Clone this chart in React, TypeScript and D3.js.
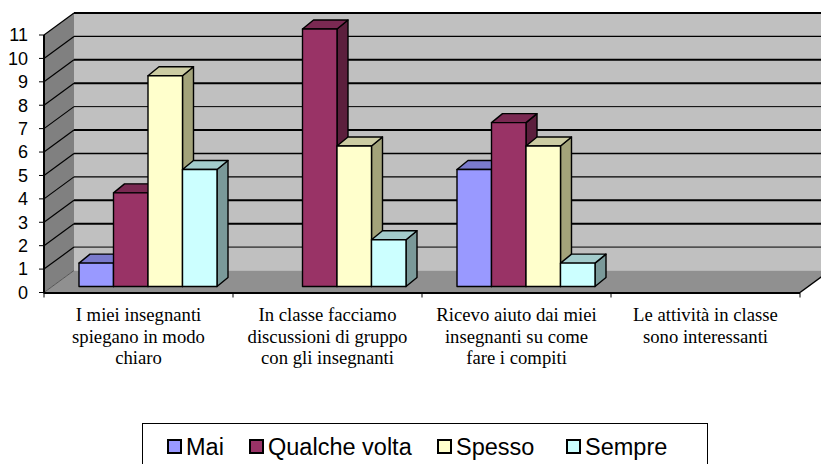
import React from "react";
import * as d3 from "d3";

const categories = [
  ["I miei insegnanti", "spiegano in modo", "chiaro"],
  ["In classe facciamo", "discussioni di gruppo", "con gli insegnanti"],
  ["Ricevo aiuto dai miei", "insegnanti su come", "fare i compiti"],
  ["Le attività in classe", "sono interessanti"],
];
const seriesNames = ["Mai", "Qualche volta", "Spesso", "Sempre"];
const mai = [1, 0, 5, 0];
const qualcheVolta = [4, 11, 7, 0];
const spesso = [9, 6, 6, 0];
const sempre = [5, 2, 1, 0];
const seriesValues = [mai, qualcheVolta, spesso, sempre];
const yTicks = [0, 1, 2, 3, 4, 5, 6, 7, 8, 9, 10, 11];

const fills = ["#9999ff", "#993366", "#ffffcc", "#ccffff"];
const tops = ["#7a7acc", "#7a2952", "#cccca3", "#a3cccc"];
const sides = ["#5c5c99", "#5c1f3d", "#a3a37a", "#7a9999"];

// rendering of the grid is uneven in the original: some lines are heavier
const gridWeights = [1, 1, 2, 2, 1.2, 1.5, 2, 1, 2, 2, 1.2, 2];

const width = 821;
const height = 464;

// 3d box
const depthX = 30;
const depthY = -22;
const barDepthX = 11;
const barDepthY = -9;
const barLift = 6;

const x0 = d3.scaleBand<number>().domain(d3.range(categories.length)).range([44, 800]);
const x1 = d3.scaleBand<string>().domain(seriesNames).range([35, 173]);
const y = d3.scaleLinear().domain([0, 11]).range([292.5, 35]);

const pts = (p: number[][]) => p.map((d) => d.join(",")).join(" ");

export default function App() {
  const left = x0.range()[0];
  const right = x0.range()[1];
  const top = y(11);
  const bottom = y(0);

  return (
    <div style={{ position: "absolute", left: 0, top: 0, width, height, overflow: "hidden" }}>
      <svg width={width} height={height} style={{ display: "block" }}>
        <rect width={width} height={height} fill="#fff" />

        {/* walls and floor */}
        <polygon
          points={pts([[left + depthX, top + depthY], [right + depthX, top + depthY], [right + depthX, bottom + depthY], [left + depthX, bottom + depthY]])}
          fill="#c0c0c0"
        />
        <polygon
          points={pts([[left, top], [left + depthX, top + depthY], [left + depthX, bottom + depthY], [left, bottom]])}
          fill="#808080"
        />
        <polygon
          points={pts([[left, bottom], [left + depthX, bottom + depthY], [right + depthX, bottom + depthY], [right, bottom]])}
          fill="#909090"
        />

        {/* grid */}
        {yTicks.slice(1).map((t) => (
          <g key={t} fill="none" stroke="#000">
            <line x1={left} y1={y(t)} x2={left + depthX} y2={y(t) + depthY} strokeWidth={1.2} />
            <line
              x1={left + depthX}
              y1={y(t) + depthY}
              x2={right + depthX}
              y2={y(t) + depthY}
              strokeWidth={gridWeights[t]}
            />
          </g>
        ))}
        <line x1={left} x2={left + depthX} y1={bottom} y2={bottom + depthY} stroke="#555" strokeWidth={1} />
        <line x1={right} x2={right + depthX} y1={bottom} y2={bottom + depthY} stroke="#000" strokeWidth={1.5} />

        {/* axes */}
        <line x1={left} x2={left} y1={top} y2={bottom + 1} stroke="#000" strokeWidth={2} />
        <line x1={left} x2={right} y1={bottom + 0.5} y2={bottom + 0.5} stroke="#000" strokeWidth={2} />
        {yTicks.map((t) => (
          <g key={t}>
            <line x1={left - 5} x2={left} y1={y(t)} y2={y(t)} stroke="#000" strokeWidth={1} />
            <text
              x={left - 16}
              y={y(t) + 6.4}
              textAnchor="end"
              fontFamily="'Liberation Sans', Arial, sans-serif"
              fontSize={18}
              fill="#000"
            >
              {t}
            </text>
          </g>
        ))}
        {d3.range(categories.length + 1).map((i) => {
          const tx = left + i * x0.step();
          return <line key={i} x1={tx} x2={tx} y1={bottom} y2={bottom + 5} stroke="#000" strokeWidth={1} />;
        })}

        {/* bars */}
        {categories.map((_, c) =>
          seriesNames.map((name, s) => {
            const v = seriesValues[s][c];
            if (!v) return null;
            const bx = x0(c)! + x1(name)!;
            const bw = x1.bandwidth();
            const by = y(v) - barLift;
            const bb = bottom - barLift;
            return (
              <g key={name + c} stroke="#000" strokeWidth={1.4} strokeLinejoin="round">
                <polygon
                  points={pts([[bx + bw, by], [bx + bw + barDepthX, by + barDepthY], [bx + bw + barDepthX, bb + barDepthY], [bx + bw, bb]])}
                  fill={sides[s]}
                />
                <polygon
                  points={pts([[bx, by], [bx + barDepthX, by + barDepthY], [bx + bw + barDepthX, by + barDepthY], [bx + bw, by]])}
                  fill={tops[s]}
                />
                <rect x={bx} y={by} width={bw} height={bb - by} fill={fills[s]} />
              </g>
            );
          })
        )}

        {/* category labels */}
        {categories.map((lines, c) => (
          <text
            key={c}
            textAnchor="middle"
            fontFamily="'Liberation Serif', 'Times New Roman', serif"
            fontSize={18.7}
            fill="#000"
          >
            {lines.map((l, i) => (
              <tspan key={i} x={x0(c)! + x0.bandwidth() / 2} y={321 + i * 21.5}>
                {l}
              </tspan>
            ))}
          </text>
        ))}

        {/* legend, its lower edge falls outside the picture */}
        <rect x={142.5} y={423.5} width={565} height={60} fill="#fff" stroke="#000" strokeWidth={1} />
        {seriesNames.map((name, s) => {
          const lx = [168, 250, 438, 567][s];
          return (
            <g key={name}>
              <rect x={lx} y={440} width={13} height={13} fill={fills[s]} stroke="#000" strokeWidth={2} />
              <text
                x={lx + 18}
                y={455}
                fontFamily="'Liberation Sans', Arial, sans-serif"
                fontSize={23.5}
                fill="#000"
              >
                {name}
              </text>
            </g>
          );
        })}
      </svg>
    </div>
  );
}
